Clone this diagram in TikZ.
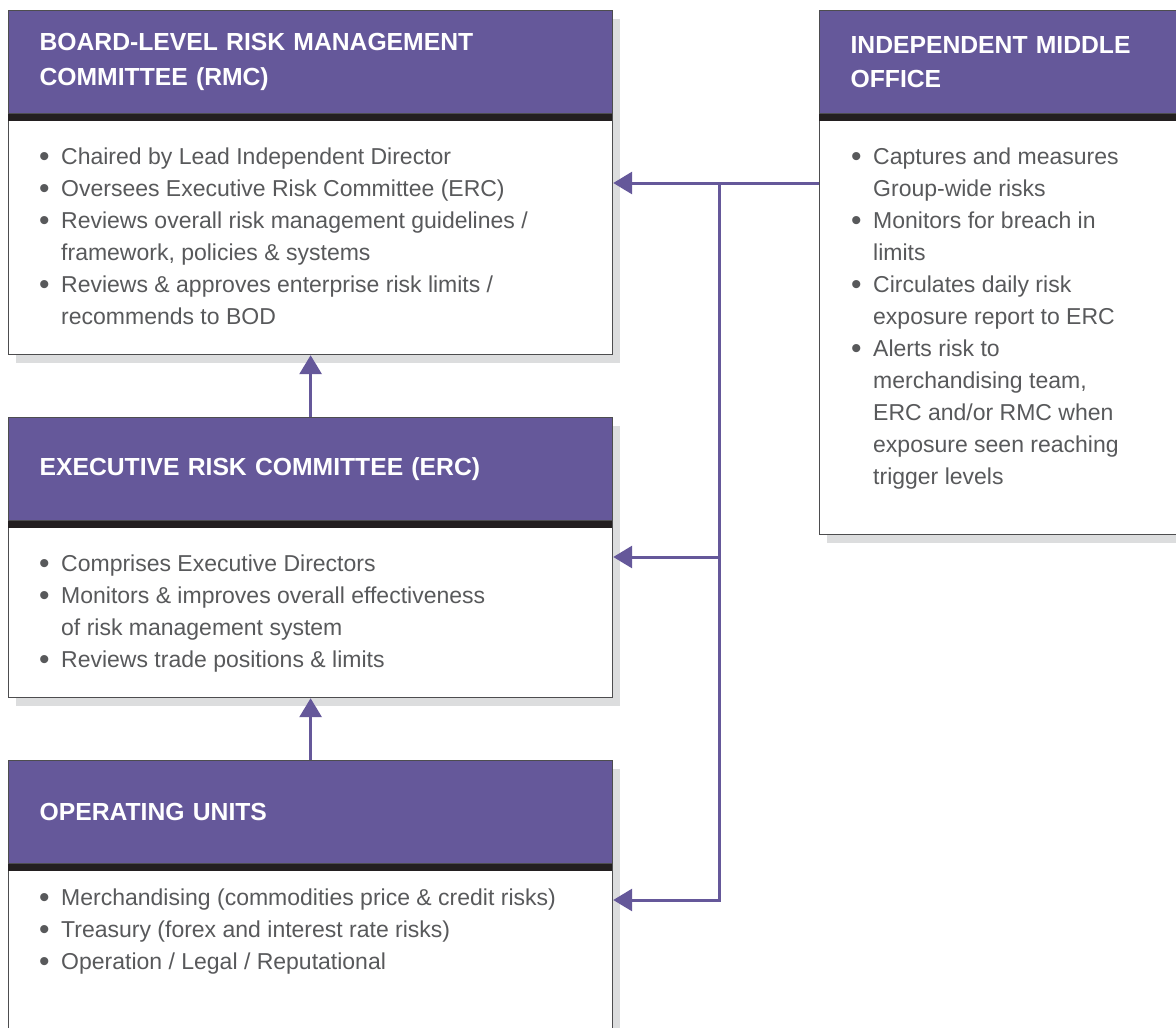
\documentclass[tikz,border=0pt]{standalone}
\usepackage{fontspec}
\setmainfont{Liberation Sans}
\usetikzlibrary{arrows.meta,shadows}

\definecolor{hdr}{HTML}{65589A}
\definecolor{barblack}{HTML}{231F20}
\definecolor{txt}{HTML}{58595B}
\definecolor{shd}{HTML}{DCDDDE}
\definecolor{edge}{HTML}{4D4D4F}
\newcommand{\itm}{\makebox[22pt][l]{\raisebox{-2.5pt}{\scalebox{1.3}{\textbullet}}}}
\newcommand{\cnt}{\hspace*{22pt}}

\begin{document}
\begin{tikzpicture}[x=1pt,y=-1pt]
\tikzstyle{box}=[draw=edge,line width=1.2pt,fill=white,anchor=north west,inner sep=0pt,general shadow={fill=shd,shadow xshift=7pt,shadow yshift=-8pt}]
\tikzstyle{head}=[draw=edge,line width=1.2pt,fill=hdr,anchor=north west,inner xsep=31pt,inner ysep=0pt,minimum height=103pt,text=white,align=left,font=\fontsize{24.7}{34.5}\selectfont\bfseries]
\tikzstyle{strip}=[fill=barblack,anchor=north west,inner sep=0pt,minimum height=7pt]
\tikzstyle{list}=[anchor=base west,inner sep=0pt,align=left,text=txt,font=\fontsize{23}{32}\selectfont]
\tikzstyle{link}=[draw=hdr,line width=3pt]
\tikzstyle{arr}=[link,-{Triangle[length=19pt,width=22pt]}]
\clip (0,0) rectangle (1176,1028);

% board committee
\node[box,minimum width=604pt,minimum height=344pt] (rmc) at (8,10) {};
\node[head,text width=542pt] (rmc-h) at (rmc.north west) {BOARD-LEVEL RISK MANAGEMENT\\COMMITTEE (RMC)};
\node[strip,minimum width=604pt] (rmc-b) at (rmc-h.south west) {};
\node[list] (rmc-t) at (39,324) {\itm Chaired by Lead Independent Director\\
\itm Oversees Executive Risk Committee (ERC)\\
\itm Reviews overall risk management guidelines /\\
\cnt framework, policies \& systems\\
\itm Reviews \& approves enterprise risk limits /\\
\cnt recommends to BOD};

% executive committee
\node[box,minimum width=604pt,minimum height=280pt] (erc) at (8,417) {};
\node[head,text width=542pt] (erc-h) at (erc.north west) {EXECUTIVE RISK COMMITTEE (ERC)};
\node[strip,minimum width=604pt] (erc-b) at (erc-h.south west) {};
\node[list] (erc-t) at (39,667) {\itm Comprises Executive Directors\\
\itm Monitors \& improves overall effectiveness\\
\cnt of risk management system\\
\itm Reviews trade positions \& limits};

% operating units
\node[box,minimum width=604pt,minimum height=300pt] (ops) at (8,760) {};
\node[head,text width=542pt] (ops-h) at (ops.north west) {OPERATING UNITS};
\node[strip,minimum width=604pt] (ops-b) at (ops-h.south west) {};
\node[list] (ops-t) at (39,969) {\itm Merchandising (commodities price \& credit risks)\\
\itm Treasury (forex and interest rate risks)\\
\itm Operation / Legal / Reputational};

% middle office
\node[box,minimum width=372pt,minimum height=524pt] (mo) at (819,10) {};
\node[head,text width=310pt] (mo-h) at (mo.north west) {INDEPENDENT MIDDLE\\OFFICE};
\node[strip,minimum width=372pt] (mo-b) at (mo-h.south west) {};
\node[list] (mo-t) at (851,484) {\itm Captures and measures\\
\cnt Group-wide risks\\
\itm Monitors for breach in\\
\cnt limits\\
\itm Circulates daily risk\\
\cnt exposure report to ERC\\
\itm Alerts risk to\\
\cnt merchandising team,\\
\cnt ERC and/or RMC when\\
\cnt exposure seen reaching\\
\cnt trigger levels};

% connectors
\coordinate (j1) at (719,183);
\coordinate (j2) at (719,557);
\coordinate (j3) at (719,900);
\draw[arr] (mo.west |- j1) -- (j1) -- (j3) -- (ops.east |- j3);
\draw[arr] (j1) -- (rmc.east |- j1);
\draw[arr] (j2) -- (erc.east |- j2);
\draw[arr] (erc-h.north) -- (rmc.south);
\draw[arr] (ops-h.north) -- (erc.south);
\end{tikzpicture}
\end{document}
